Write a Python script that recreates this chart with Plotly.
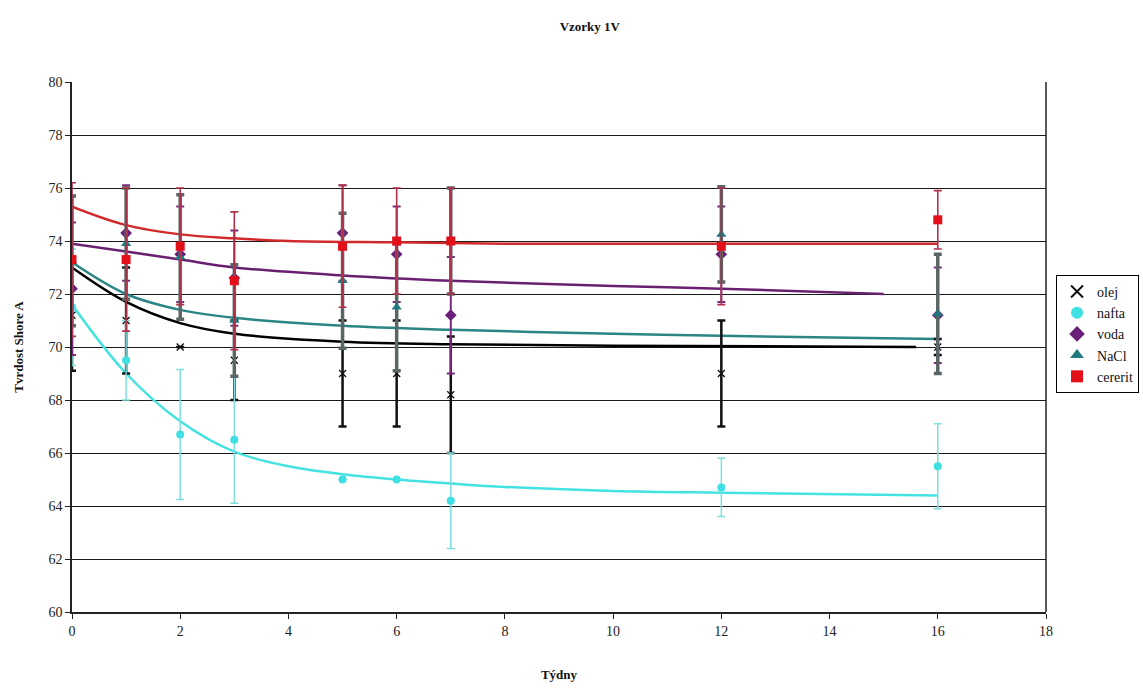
import plotly.graph_objects as go

# Measurement weeks
weeks = [0, 1, 2, 3, 5, 6, 7, 12, 16]

# Shore A hardness (mean) and standard deviation per medium
olej = [71.2, 71.0, 70.0, 69.5, 69.0, 69.0, 68.2, 69.0, 70.0]
olej_sd = [2.1, 2.0, 0.0, 1.5, 2.0, 2.0, 2.2, 2.0, 0.3]

nafta = [71.5, 69.5, 66.7, 66.5, 65.0, 65.0, 64.2, 64.7, 65.5]
nafta_sd = [2.2, 1.5, 2.45, 2.4, 0.0, 0.0, 1.8, 1.1, 1.6]

voda = [72.2, 74.3, 73.5, 72.6, 74.3, 73.5, 71.2, 73.5, 71.2]
voda_sd = [2.5, 1.8, 1.8, 1.8, 1.8, 1.8, 2.2, 1.8, 1.8]

nacl = [73.25, 73.9, 73.4, 71.0, 72.5, 71.5, 74.0, 74.25, 71.25]
nacl_sd = [2.45, 2.1, 2.35, 2.1, 2.55, 2.4, 2.0, 1.8, 2.25]

cererit = [73.3, 73.3, 73.8, 72.5, 73.8, 74.0, 74.0, 73.8, 74.8]
cererit_sd = [2.9, 2.7, 2.2, 2.6, 2.3, 2.0, 2.0, 2.2, 1.1]

# Trend curves (knots of the smoothed trend per medium)
trend_olej_x = [0, 1, 2, 3, 5, 7, 10, 15.6]
trend_olej_y = [73.0, 71.7, 70.9, 70.5, 70.2, 70.1, 70.05, 70.0]

trend_nafta_x = [0, 1, 2, 3, 4, 5, 6, 7, 8, 10, 12, 16]
trend_nafta_y = [71.6, 69.0, 67.2, 66.05, 65.5, 65.2, 65.0, 64.85, 64.72, 64.57, 64.5, 64.4]

trend_voda_x = [0, 1, 2, 3, 5, 7, 10, 12, 15]
trend_voda_y = [73.9, 73.6, 73.3, 73.0, 72.7, 72.5, 72.3, 72.2, 72.0]

trend_nacl_x = [0, 1, 2, 3, 5, 7, 10, 12, 16]
trend_nacl_y = [73.2, 72.0, 71.4, 71.1, 70.8, 70.65, 70.5, 70.42, 70.3]

trend_cererit_x = [0, 1, 2, 3, 4, 6, 8, 12, 16]
trend_cererit_y = [75.3, 74.6, 74.25, 74.1, 74.0, 73.95, 73.9, 73.9, 73.9]

x_ticks = [0, 2, 4, 6, 8, 10, 12, 14, 16, 18]
y_ticks = [60, 62, 64, 66, 68, 70, 72, 74, 76, 78, 80]

SERIF = "Liberation Serif, Times New Roman, serif"

series = [
    dict(name="olej", y=olej, sd=olej_sd, tx=trend_olej_x, ty=trend_olej_y,
         mcolor="#111111", symbol="x-thin-open", msize=7, ecolor="#111111", ethick=2.5,
         lcolor="#000000"),
    dict(name="nafta", y=nafta, sd=nafta_sd, tx=trend_nafta_x, ty=trend_nafta_y,
         mcolor="#3ee0e4", symbol="circle", msize=8, ecolor="#7fdede", ethick=1.5,
         lcolor="#45e2e2"),
    dict(name="voda", y=voda, sd=voda_sd, tx=trend_voda_x, ty=trend_voda_y,
         mcolor="#6a1f78", symbol="diamond", msize=9, ecolor="#7d2a7d", ethick=2,
         lcolor="#6a2070"),
    dict(name="NaCl", y=nacl, sd=nacl_sd, tx=trend_nacl_x, ty=trend_nacl_y,
         mcolor="#1f7a7e", symbol="triangle-up", msize=9, ecolor="#5a6666", ethick=3.5,
         lcolor="#2c8585"),
    dict(name="cererit", y=cererit, sd=cererit_sd, tx=trend_cererit_x, ty=trend_cererit_y,
         mcolor="#e3101a", symbol="square", msize=9, ecolor="#b0304a", ethick=1.6,
         lcolor="#d12a2a"),
]

fig = go.Figure()

# trend lines first, markers with error bars on top
for s in series:
    fig.add_trace(go.Scatter(
        x=s["tx"], y=s["ty"], mode="lines", line=dict(color=s["lcolor"], width=2.5, shape="spline"),
        showlegend=False, hoverinfo="skip"))

for s in series:
    fig.add_trace(go.Scatter(
        x=weeks, y=s["y"], name=s["name"], mode="markers",
        marker=dict(color=s["mcolor"], symbol=s["symbol"], size=s["msize"],
                    line=dict(color=s["mcolor"], width=1.3 if s["name"] == "olej" else 0)),
        error_y=dict(type="data", array=s["sd"], visible=True, color=s["ecolor"],
                     thickness=s["ethick"], width=4),
    ))

fig.update_layout(
    width=1143, height=688,
    margin=dict(l=72, r=97, t=82, b=76, autoexpand=False),
    paper_bgcolor="white", plot_bgcolor="white",
    font=dict(family=SERIF, size=14, color="#222222"),
    title=dict(text="<b>Vzorky 1V</b>", x=0.516, xanchor="center", y=0.962, yanchor="middle",
               font=dict(family=SERIF, size=13, color="#111111")),
    showlegend=True,
    legend=dict(x=1.0103, xanchor="left", y=0.636, yanchor="top",
                bordercolor="#000000", borderwidth=1, bgcolor="white",
                font=dict(family=SERIF, size=14, color="#111111"),
                itemsizing="constant", tracegroupgap=0, itemwidth=30),
)

fig.update_xaxes(
    range=[0, 18], tickvals=x_ticks, ticktext=[str(v) for v in x_ticks],
    showgrid=False, zeroline=False, showline=True, linecolor="#222222", linewidth=1.5,
    ticks="outside", ticklen=5, tickcolor="#222222", tickwidth=1.2,
    tickfont=dict(family=SERIF, size=14, color="#222222"),
    title=dict(text="<b>Týdny</b>", font=dict(family=SERIF, size=13, color="#111111"), standoff=32),
    mirror=False,
)
fig.update_yaxes(
    range=[60, 80], tickvals=y_ticks, ticktext=[str(v) for v in y_ticks],
    showgrid=True, gridcolor="#1a1a1a", gridwidth=1.3, zeroline=False,
    showline=True, linecolor="#222222", linewidth=1.5,
    ticks="outside", ticklen=5, tickcolor="#222222", tickwidth=1.2,
    tickfont=dict(family=SERIF, size=14, color="#222222"),
    title=dict(text="<b>Tvrdost Shore A</b>", font=dict(family=SERIF, size=13, color="#111111"), standoff=22),
)

# right border of the plot area
fig.add_shape(type="line", xref="paper", yref="paper", x0=1, x1=1, y0=0, y1=1,
              line=dict(color="#222222", width=1.5))

fig.write_html("out.html")
